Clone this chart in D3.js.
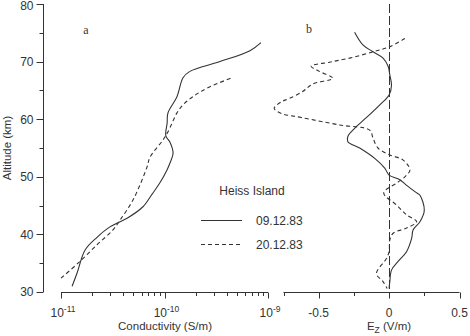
<!DOCTYPE html>
<meta charset="utf-8">
<script src="https://d3js.org/d3.v7.min.js"></script>
<style>
  body { margin: 0; background: #fff; }
  text { font-family: "Liberation Sans", Arial, sans-serif; fill: #333; }
</style>
<div id="chart"></div>
<script>

// altitudes (km) and conductivity (S/m) - panel a
var condAlt1 = [31, 33.3, 37.3, 39.5, 41.3, 42.8, 44.8, 47, 49, 51.2, 52.4, 54.1, 56, 57.1, 59.3, 61.1, 63.9, 67.2, 68.3, 70, 71.9, 73.3];
var condVal1 = [1.28e-11, 1.43e-11, 1.71e-11, 2.23e-11, 2.97e-11, 4.35e-11, 6.19e-11, 7.59e-11, 9.06e-11, 1.057e-10, 1.13e-10, 1.21e-10, 1.13e-10, 1.03e-10, 1.06e-10, 1.08e-10, 1.32e-10, 1.51e-10, 1.76e-10, 3.44e-10, 6.70e-10, 8.55e-10];
var condAlt2 = [32.4, 35, 38.2, 40.8, 42.5, 46, 51.7, 53.4, 56.4, 57.8, 61.1, 62.5, 63.9, 65.4, 67.2];
var condVal2 = [1.0e-11, 1.46e-11, 2.23e-11, 3.18e-11, 3.72e-11, 4.97e-11, 6.78e-11, 7.24e-11, 9.68e-11, 1.08e-10, 1.32e-10, 1.51e-10, 1.88e-10, 2.58e-10, 4.49e-10];

// altitudes (km) and Ez (V/m) - panel b
var ezAlt1 = [75.1, 72.9, 71.7, 70.6, 69.2, 67.7, 65.9, 64.2, 62.5, 60.3, 58.4, 57, 56.1, 55, 53.2, 51.5, 50.3, 49.5, 48.6, 47.2, 46.8, 44.2, 42.2, 40.8, 39.3, 37, 35.3, 33.8, 31.8, 30.6];
var ezVal1 = [-0.245, -0.186, -0.114, -0.043, -0.007, 0.005, 0.017, 0, -0.066, -0.16, -0.245, -0.293, -0.293, -0.209, -0.102, -0.031, 0, 0.076, 0.12, 0.196, 0.219, 0.25, 0.219, 0.171, 0.16, 0.124, 0.064, 0.017, 0.005, 0];
var ezAlt2 = [74.0, 72.6, 71.7, 70.6, 69.9, 69.2, 68.3, 67.1, 66.1, 64.8, 63.6, 63.0, 61.9, 61.0, 60.3, 59.0, 58.1, 56.7, 55, 53.8, 52.9, 51.2, 50, 48.9, 47.2, 45.1, 43.4, 42.2, 41.1, 40.2, 39, 37, 35.8, 33.2, 31.8, 30.6];
var ezVal2 = [0.112, 0.005, -0.114, -0.281, -0.424, -0.554, -0.495, -0.4, -0.543, -0.614, -0.709, -0.766, -0.816, -0.766, -0.624, -0.352, -0.138, -0.114, -0.079, 0.005, 0.1, 0.148, 0.112, 0.053, -0.038, 0.053, 0.124, 0.196, 0.124, 0.029, 0.005, 0, -0.019, -0.09, -0.043, -0.014];

var altTicks = [30, 40, 50, 60, 70, 80];
var ezTicks = [-0.5, 0, 0.5];
var legendTitle = "Heiss Island";
var seriesNames = ["09.12.83", "20.12.83"];

var width = 470, height = 336;
var ink = "#333";

var svg = d3.select("#chart").append("svg")
    .attr("width", width)
    .attr("height", height);

var y = d3.scaleLinear().domain([30, 80]).range([292, 4]);
var xa = d3.scaleLog().domain([1e-11, 1e-9]).range([61, 268]);
var xb = d3.scaleLinear().domain([-0.75, 0.5]).range([283.5, 459.5]);

function zip(a, v) { return a.map(function(d, i) { return {alt: d, v: v[i]}; }); }

// Y axis
var yAxis = svg.append("g").attr("transform", "translate(43.5,0)");
yAxis.append("line").attr("y1", y(80)).attr("y2", y(30)).attr("stroke", ink);
d3.range(30, 81, 5).forEach(function(t) {
  var major = t % 10 == 0;
  yAxis.append("line")
    .attr("x1", major ? -7 : -4).attr("x2", 0)
    .attr("y1", Math.round(y(t)) + 0.5).attr("y2", Math.round(y(t)) + 0.5)
    .attr("stroke", ink);
});
yAxis.selectAll("text.tick").data(altTicks).enter().append("text")
  .attr("x", -10).attr("y", function(d) { return Math.max(y(d), 5.5); })
  .attr("dy", "0.36em")
  .attr("text-anchor", "end")
  .style("font-size", "12px")
  .text(function(d) { return d; });

svg.append("text")
  .attr("transform", "translate(11,148) rotate(-90)")
  .attr("text-anchor", "middle")
  .style("font-size", "11.5px")
  .text("Altitude (km)");

// X axis a (log)
var axA = svg.append("g").attr("transform", "translate(0,292.5)");
axA.append("line").attr("x1", xa(1e-11)).attr("x2", xa(1e-9)).attr("stroke", ink);
[-11, -10].forEach(function(e) {
  for (var m = 1; m < 10; m++) {
    var xv = Math.round(xa(m * Math.pow(10, e))) + 0.5;
    axA.append("line").attr("x1", xv).attr("x2", xv)
      .attr("y1", 0).attr("y2", m == 1 ? 6 : 3.5).attr("stroke", ink);
  }
});
axA.append("line").attr("x1", Math.round(xa(1e-9)) + 0.5).attr("x2", Math.round(xa(1e-9)) + 0.5)
  .attr("y1", 0).attr("y2", 6).attr("stroke", ink);
[-11, -10, -9].forEach(function(e) {
  var t = axA.append("text")
    .attr("x", xa(Math.pow(10, e)) + 2).attr("y", 24)
    .attr("text-anchor", "middle")
    .style("font-size", "12px");
  t.append("tspan").text("10");
  t.append("tspan").attr("dy", "-5").style("font-size", "8.5px").text(e);
});
svg.append("text")
  .attr("x", 165).attr("y", 330)
  .attr("text-anchor", "middle")
  .style("font-size", "11.5px")
  .text("Conductivity (S/m)");

// X axis b
var axB = svg.append("g").attr("transform", "translate(0,292.5)");
axB.append("line").attr("x1", xb(-0.75)).attr("x2", xb(0.5)).attr("stroke", ink);
[-0.75, -0.5, -0.25, 0, 0.25, 0.5].forEach(function(t) {
  var major = ezTicks.indexOf(t) >= 0;
  var xv = Math.round(xb(t)) + 0.5;
  axB.append("line").attr("x1", xv).attr("x2", xv)
    .attr("y1", 0).attr("y2", major ? 6 : 3.5).attr("stroke", ink);
});
axB.selectAll("text").data(ezTicks).enter().append("text")
  .attr("x", function(d) { return xb(d); }).attr("y", 24)
  .attr("text-anchor", "middle")
  .style("font-size", "12px")
  .text(function(d) { return d; });
var ezLabel = svg.append("text")
  .attr("x", 389).attr("y", 330)
  .attr("text-anchor", "middle")
  .style("font-size", "11.5px");
ezLabel.append("tspan").text("E");
ezLabel.append("tspan").attr("dy", "3").style("font-size", "8.5px").text("Z");
ezLabel.append("tspan").attr("dy", "-3").text(" (V/m)");

// zero line
svg.append("line")
  .attr("x1", Math.round(xb(0)) + 0.5).attr("x2", Math.round(xb(0)) + 0.5)
  .attr("y1", y(80)).attr("y2", y(30))
  .attr("stroke", ink).attr("stroke-dasharray", "9,3");

// curves
var lineA = d3.line().curve(d3.curveCatmullRom.alpha(0.5))
  .x(function(d) { return xa(d.v); }).y(function(d) { return y(d.alt); });
var lineB = d3.line().curve(d3.curveCatmullRom.alpha(0.5))
  .x(function(d) { return xb(d.v); }).y(function(d) { return y(d.alt); });

svg.append("path").datum(zip(condAlt1, condVal1))
  .attr("fill", "none").attr("stroke", ink).attr("stroke-width", 1.1).attr("d", lineA);
svg.append("path").datum(zip(condAlt2, condVal2))
  .attr("fill", "none").attr("stroke", ink).attr("stroke-width", 1.1)
  .attr("stroke-dasharray", "4,3").attr("d", lineA);
svg.append("path").datum(zip(ezAlt1, ezVal1))
  .attr("fill", "none").attr("stroke", ink).attr("stroke-width", 1.1).attr("d", lineB);
svg.append("path").datum(zip(ezAlt2, ezVal2))
  .attr("fill", "none").attr("stroke", ink).attr("stroke-width", 1.1)
  .attr("stroke-dasharray", "4,3").attr("d", lineB);

// panel labels
svg.append("text").attr("x", 86).attr("y", 34).attr("text-anchor", "middle")
  .style("font-family", "'Liberation Serif', serif").style("font-size", "12px").text("a");
svg.append("text").attr("x", 309).attr("y", 33).attr("text-anchor", "middle")
  .style("font-family", "'Liberation Serif', serif").style("font-size", "12px").text("b");

// legend
var legend = svg.append("g");
legend.append("text").attr("x", 252).attr("y", 195).attr("text-anchor", "middle")
  .style("font-size", "12px").text(legendTitle);
seriesNames.forEach(function(name, i) {
  var ly = 220.5 + i * 24;
  legend.append("line").attr("x1", 201).attr("x2", 242).attr("y1", ly).attr("y2", ly)
    .attr("stroke", ink).attr("stroke-width", 1.1)
    .attr("stroke-dasharray", i == 1 ? "4,3" : null);
  legend.append("text").attr("x", 256).attr("y", ly).attr("dy", "0.36em")
    .style("font-size", "12px").text(name);
});

</script>
